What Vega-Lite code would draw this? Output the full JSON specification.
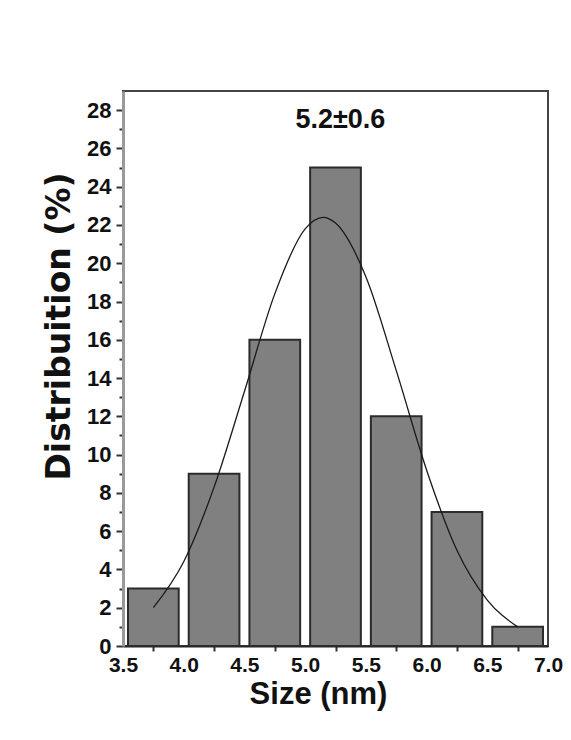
{
  "$schema": "https://vega.github.io/schema/vega-lite/v6.json",
  "width": 425,
  "height": 555,
  "autosize": {"type": "none"},
  "padding": {"left": 123, "top": 91, "right": 23, "bottom": 94},
  "background": "#ffffff",
  "config": {
    "view": {"stroke": "#444444", "strokeWidth": 2},
    "axis": {"grid": false}
  },
  "datasets": {
    "bars": [
      {"size": 3.5, "size_end": 4.0, "dist": 3},
      {"size": 4.0, "size_end": 4.5, "dist": 9},
      {"size": 4.5, "size_end": 5.0, "dist": 16},
      {"size": 5.0, "size_end": 5.5, "dist": 25},
      {"size": 5.5, "size_end": 6.0, "dist": 12},
      {"size": 6.0, "size_end": 6.5, "dist": 7},
      {"size": 6.5, "size_end": 7.0, "dist": 1}
    ],
    "fit": [
      {"size": 3.75, "dist": 2.0},
      {"size": 4.0, "dist": 4.4},
      {"size": 4.25, "dist": 8.3},
      {"size": 4.5, "dist": 13.3},
      {"size": 4.75, "dist": 18.4},
      {"size": 5.0, "dist": 21.8},
      {"size": 5.15, "dist": 22.4},
      {"size": 5.25, "dist": 22.1},
      {"size": 5.5, "dist": 19.3},
      {"size": 5.75, "dist": 14.4},
      {"size": 6.0, "dist": 9.2},
      {"size": 6.25, "dist": 5.0},
      {"size": 6.5, "dist": 2.4},
      {"size": 6.75, "dist": 1.0}
    ],
    "note": [
      {"size": 5.29, "dist": 27.5, "label": "5.2±0.6"}
    ]
  },
  "encoding": {
    "x": {
      "field": "size", "type": "quantitative",
      "scale": {"domain": [3.5, 7.0], "nice": false, "zero": false},
      "axis": {
        "values": [3.5, 3.75, 4.0, 4.25, 4.5, 4.75, 5.0, 5.25, 5.5, 5.75, 6.0, 6.25, 6.5, 6.75, 7.0],
        "labelExpr": "datum.value * 2 == round(datum.value * 2) ? format(datum.value, '.1f') : ''",
        "tickOpacity": {"condition": {"test": "datum.value * 2 == round(datum.value * 2)", "value": 0}, "value": 1},
        "tickSize": 5, "tickWidth": 2, "tickColor": "#333333",
        "domainColor": "#222222", "domainWidth": 2,
        "labelFont": "Liberation Sans", "labelFontWeight": "bold", "labelFontSize": 21, "labelColor": "#111111",
        "labelPadding": 3, "labelFlush": false, "labelOverlap": false,
        "title": "Size (nm)", "titleFont": "Liberation Sans", "titleFontWeight": "bold", "titleFontSize": 31,
        "titleColor": "#111111", "titlePadding": 4, "titleX": 195
      }
    },
    "y": {
      "field": "dist", "type": "quantitative",
      "scale": {"domain": [0, 29], "nice": false},
      "axis": {
        "values": [0,1,2,3,4,5,6,7,8,9,10,11,12,13,14,15,16,17,18,19,20,21,22,23,24,25,26,27,28],
        "labelExpr": "datum.value % 2 == 0 ? datum.label : ''",
        "tickSize": {"condition": {"test": "datum.value % 2 == 0", "value": 7}, "value": 4},
        "tickWidth": 2, "tickColor": "#333333",
        "domainColor": "#9a9a9a", "domainWidth": 3,
        "labelFont": "Liberation Sans", "labelFontWeight": "bold", "labelFontSize": 22, "labelColor": "#111111",
        "labelPadding": 5, "labelOverlap": false,
        "title": "Distribuition (%)", "titleFont": "DejaVu Sans", "titleFontWeight": "bold", "titleFontSize": 33,
        "titleColor": "#111111", "titlePadding": 10, "titleY": 235
      }
    }
  },
  "layer": [
    {
      "data": {"name": "bars"},
      "mark": {"type": "rect", "fill": "#808080", "stroke": "#2b2b2b", "strokeWidth": 2, "xOffset": 5, "x2Offset": -5},
      "encoding": {
        "x2": {"field": "size_end"},
        "y2": {"datum": 0}
      }
    },
    {
      "data": {"name": "fit"},
      "mark": {"type": "line", "interpolate": "monotone", "color": "#1a1a1a", "strokeWidth": 1.3}
    },
    {
      "data": {"name": "note"},
      "mark": {"type": "text", "font": "Liberation Sans", "fontWeight": "bold", "fontSize": 27, "color": "#111111", "baseline": "middle", "align": "center"},
      "encoding": {
        "text": {"field": "label"}
      }
    }
  ]
}
